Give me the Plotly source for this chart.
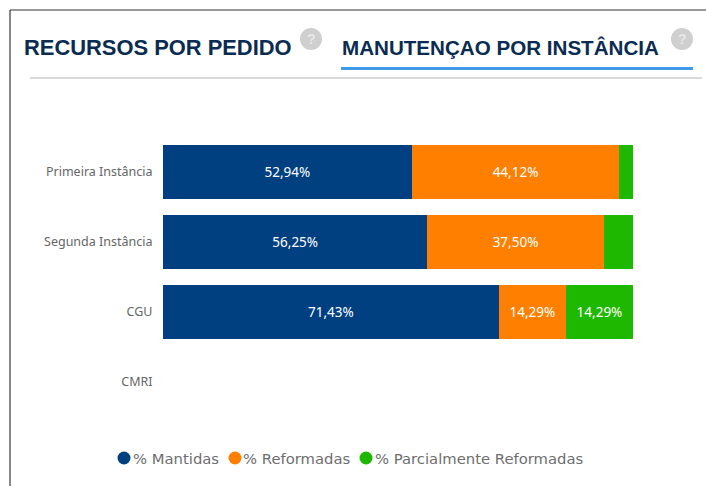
import plotly.graph_objects as go

categories = ["Primeira Instância", "Segunda Instância", "CGU", "CMRI"]
mantidas = [52.94, 56.25, 71.43, None]
reformadas = [44.12, 37.50, 14.29, None]
parciais = [2.94, 6.25, 14.29, None]
series_names = ["% Mantidas", "% Reformadas", "% Parcialmente Reformadas"]
series_colors = ["#004080", "#FF8000", "#1FB800"]
title_left = "RECURSOS POR PEDIDO"
title_right = "MANUTENÇAO POR INSTÂNCIA"

W, H = 706, 486
L, R, T, B = 163, 633, 137, 417
FONT = "Noto Sans"


def px(x):
    return x / W


def py(y):
    return 1 - y / H


def label(v):
    if v is None or v < 10:
        return ""
    return f"{v:.2f}".replace(".", ",") + "%"


fig = go.Figure()
for name, vals, col in zip(series_names, [mantidas, reformadas, parciais], series_colors):
    fig.add_trace(go.Bar(
        y=categories, x=vals, orientation="h", name=name, showlegend=False,
        marker=dict(color=col, line=dict(width=0)),
        text=[label(v) for v in vals], textposition="inside", insidetextanchor="middle",
        textangle=0, constraintext="none",
        textfont=dict(color="white", size=13.5, family=FONT),
    ))


def line(x0, y0, x1, y1, color, width):
    return dict(type="line", xref="paper", yref="paper", x0=px(x0), y0=py(y0), x1=px(x1), y1=py(y1),
                line=dict(color=color, width=width))


def circle(cx, cy, r, color):
    return dict(type="circle", xref="paper", yref="paper", x0=px(cx - r), x1=px(cx + r),
                y0=py(cy + r), y1=py(cy - r), fillcolor=color, line=dict(width=0))


def text(x, y, s, size, color, family, anchor="left", bold=False):
    return dict(xref="paper", yref="paper", x=px(x), y=py(y), text=f"<b>{s}</b>" if bold else s,
                showarrow=False, xanchor=anchor, yanchor="middle", borderpad=0, borderwidth=0,
                font=dict(size=size, color=color, family=family))


shapes = [
    line(10, 10, 706, 10, "#333333", 1),
    line(10, 10, 10, 486, "#111111", 1),
    line(30, 78, 702, 78, "#CCCCCC", 1.5),
    line(341, 68.5, 693, 68.5, "#3F9BEA", 3),
    circle(311, 39, 11, "#CFCFCF"),
    circle(682, 39, 11, "#CFCFCF"),
]
annotations = [
    text(23.5, 47, title_left, 21.9, "#0A2B52", "Liberation Sans", bold=True),
    text(342, 47, title_right, 20.6, "#0A2B52", "Liberation Sans", bold=True),
    text(311, 39, "?", 14, "#E8E8E8", "Liberation Sans", "center", True),
    text(682, 39, "?", 14, "#E8E8E8", "Liberation Sans", "center", True),
]
# legend row: dot centre and label start, in page pixels
legend_dots = [124, 235, 366]
legend_text = [133, 243, 375]
for name, col, dx, tx in zip(series_names, series_colors, legend_dots, legend_text):
    shapes.append(circle(dx, 458, 6.5, col))
    annotations.append(text(tx, 458, name, 14.8, "#6E6E6E", "DejaVu Sans"))

fig.update_layout(
    width=W, height=H, margin=dict(l=0, r=0, t=0, b=0, pad=0),
    barmode="stack", bargap=0.23, paper_bgcolor="white", plot_bgcolor="white",
    showlegend=False, shapes=shapes, annotations=annotations,
    xaxis=dict(domain=[L / W, R / W], range=[0, 100], visible=False, fixedrange=True),
    yaxis=dict(domain=[1 - B / H, 1 - T / H], categoryorder="array", categoryarray=categories,
               autorange="reversed", showline=False, showgrid=False, zeroline=False,
               ticks="outside", ticklen=7, tickcolor="rgba(0,0,0,0)",
               tickfont=dict(size=12.5, color="#666666", family=FONT)),
)
fig.write_html("out.html", config=dict(displayModeBar=False),
               post_script="document.body.style.margin='0';document.body.style.overflow='hidden';")
